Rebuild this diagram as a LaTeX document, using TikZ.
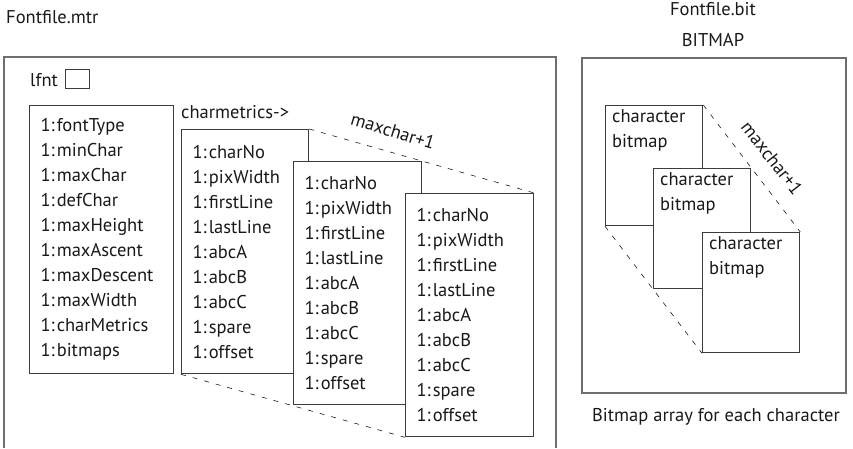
\documentclass[tikz,border=0pt]{standalone}
\usepackage{fontspec}
\setmainfont{PT Sans}
\usetikzlibrary{positioning}
\definecolor{framegray}{RGB}{110,110,110}
\definecolor{boxgray}{RGB}{60,60,60}
\definecolor{textdark}{RGB}{25,25,25}
\newcommand{\fieldfont}{\fontsize{18.5}{25}\selectfont}
\tikzset{
  frame/.style={draw=framegray, line width=1.6pt},
  field/.style={draw=boxgray, line width=1.3pt, fill=white, anchor=north west, align=left,
    inner xsep=11pt, inner ysep=0pt, text width=#1, font=\fieldfont, text=textdark},
  bmbox/.style={draw=boxgray, line width=1.3pt, fill=white, anchor=north west,
    minimum width=97pt, minimum height=120pt, inner sep=0pt},
  bmlabel/.style={anchor=north west, align=left, inner xsep=7pt, inner ysep=4pt,
    font=\fieldfont, text=textdark},
  caption/.style={font=\fieldfont, text=textdark, inner sep=0pt},
  spread/.style={dashed, dash pattern=on 5pt off 7pt, line width=0.6pt, draw=textdark}
}

\begin{document}
\begin{tikzpicture}[x=1pt, y=-1pt]
  \useasboundingbox (0,0) rectangle (853,448);

  % Metric file.
  \node[caption, anchor=west] (mtrname) at (6,17) {Fontfile.mtr};
  \draw[frame] (4,448) -- (4,57) -- (556,57) -- (556,448);
  \node[caption, anchor=west] (lfnt) at (30,80) {lfnt};
  \node[draw=boxgray, line width=1pt, minimum width=24pt, minimum height=19pt, inner sep=0pt]
    (lfntbox) at (77,79) {};

  \node[field=122pt, minimum height=268pt] (header) at (29,105)
    {1:\kern2pt fontType\\1:\kern2pt minChar\\1:\kern2pt maxChar\\1:\kern2pt defChar\\1:\kern2pt maxHeight\\1:\kern2pt maxAscent\\1:\kern2pt maxDescent\\1:\kern2pt maxWidth\\1:\kern2pt charMetrics\\1:\kern2pt bitmaps};
  \node[caption, anchor=west] (cmlabel) at (181,112) {charmetrics->};

  % Charmetrics array.
  \node[field=105pt, minimum height=244pt] (mt1) at (181,129)
    {1:\kern2pt charNo\\1:\kern2pt pixWidth\\1:\kern2pt firstLine\\1:\kern2pt lastLine\\1:\kern2pt abcA\\1:\kern2pt abcB\\1:\kern2pt abcC\\1:\kern2pt spare\\1:\kern2pt offset};
  \node[field=106pt, minimum height=243pt] (mt2) at (293,161)
    {1:\kern2pt charNo\\1:\kern2pt pixWidth\\1:\kern2pt firstLine\\1:\kern2pt lastLine\\1:\kern2pt abcA\\1:\kern2pt abcB\\1:\kern2pt abcC\\1:\kern2pt spare\\1:\kern2pt offset};
  \node[field=106pt, minimum height=243pt] (mt3) at (405,193)
    {1:\kern2pt charNo\\1:\kern2pt pixWidth\\1:\kern2pt firstLine\\1:\kern2pt lastLine\\1:\kern2pt abcA\\1:\kern2pt abcB\\1:\kern2pt abcC\\1:\kern2pt spare\\1:\kern2pt offset};
  \draw[spread] (mt1.north east) -- (mt3.north east);
  \draw[spread] (mt1.south west) -- (mt3.south west);
  \node[caption, rotate=-17] (mtcount) at (393,131) {maxchar+1};

  % Bitmap file.
  \node[caption] (bitname) at (713,9) {Fontfile.bit};
  \node[caption] (bittitle) at (713,40) {BITMAP};
  \node[frame, anchor=north west, minimum width=264pt, minimum height=335pt, inner sep=0pt] (bitframe) at (581,57) {};
  \node[bmbox, label={[bmlabel]north west:character\\bitmap}] (bm1) at (605,105) {};
  \node[bmbox, label={[bmlabel]north west:character\\bitmap}] (bm2) at (653,168) {};
  \node[bmbox, label={[bmlabel]north west:character\\bitmap}] (bm3) at (702,232) {};
  \draw[spread] (bm1.north east) -- (bm3.north east);
  \draw[spread] (bm1.south west) -- (bm3.south west);
  \node[caption, rotate=-52] (bmcount) at (772,158) {maxchar+1};
  \node[caption] (bitcaption) at (716,417) {Bitmap array for each character};
\end{tikzpicture}
\end{document}
